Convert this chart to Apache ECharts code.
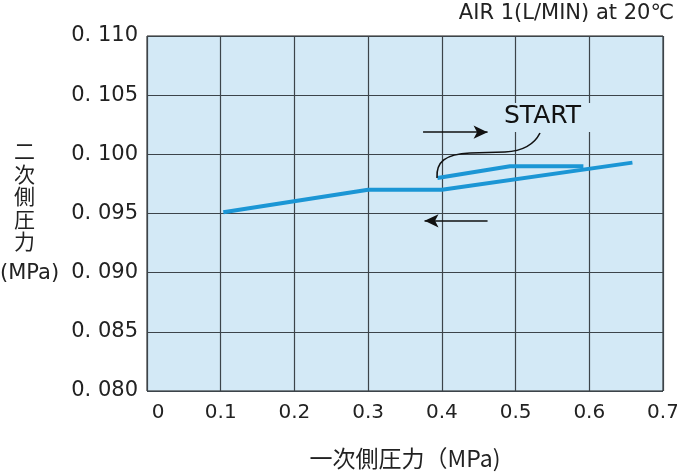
<!DOCTYPE html>
<html><head><meta charset="utf-8">
<script src="https://cdn.jsdelivr.net/npm/echarts@6/dist/echarts.min.js"></script>
<style>html,body{margin:0;padding:0;background:#fff}#c{width:677px;height:473px}</style>
</head><body><div id="c"></div>
<script>
const xTickLabels = ['0','0.1','0.2','0.3','0.4','0.5','0.6','0.7'];
const yTickLabels = ['0. 080','0. 085','0. 090','0. 095','0. 100','0. 105','0. 110'];
// return path (decreasing primary pressure)
const returnX = [0.1035, 0.300, 0.400, 0.6585];
const returnY = [0.0951, 0.0970, 0.0970, 0.0993];
// start path (increasing primary pressure)
const startX = [0.394, 0.4925, 0.592];
const startY = [0.0980, 0.0990, 0.0990];
const titleText = 'AIR 1(L/MIN) at 20℃';
const xName = '一次側圧力（MPa)';
const yNameChars = '二次側圧力';
const yNameUnit = '(MPa)';
const startLabel = 'START';

const NUM = 'DejaVu Sans';
const CJK = 'Noto Sans CJK JP';
const LINE = '#1b96d5';

const chart = echarts.init(document.getElementById('c'), null, {renderer:'canvas'});
const zip = (a,b)=>a.map((v,i)=>[v,b[i]]);
chart.setOption({
  animation:false,
  grid:{left:147, top:36, right:14, bottom:82, show:true, backgroundColor:'#d3e9f6', borderColor:'#1a1a1a', borderWidth:1, outerBoundsMode:'none', containLabel:false},
  xAxis:{type:'value', min:0, max:0.7, interval:0.1,
    axisLine:{show:false}, axisTick:{show:false},
    splitLine:{show:true, lineStyle:{color:'#3c444a', width:1.2}},
    axisLabel:{margin:12, fontFamily:NUM, fontSize:20, color:'#222', hideOverlap:false,
      formatter:(v)=>{const i=Math.round(v*10); return i===0?'{z|'+xTickLabels[0]+'}':xTickLabels[i];},
      rich:{z:{fontFamily:NUM, fontSize:20, color:'#222', padding:[0,0,0,22]}}},
    name:xName, nameLocation:'middle', nameGap:56,
    nameTextStyle:{fontFamily:CJK, fontSize:23, color:'#222'}
  },
  yAxis:{type:'value', min:0.08, max:0.11, interval:0.005,
    axisLine:{show:false}, axisTick:{show:false},
    splitLine:{show:true, lineStyle:{color:'#3c444a', width:1.2}},
    axisLabel:{margin:9, fontFamily:NUM, fontSize:21, color:'#222',
      formatter:(v)=>yTickLabels[Math.round((v-0.08)/0.005)]}
  },
  graphic:[
    {type:'text', right:3, top:3, style:{text:titleText, font:'21px "DejaVu Sans", "Noto Sans CJK JP"', fill:'#222'}},
    {type:'text', left:14, top:140, style:{text:yNameChars.split('').join('\n'), font:'21px "Noto Sans CJK JP"', lineHeight:22.5, fill:'#222', align:'left'}},
    {type:'text', left:0, top:263, style:{text:yNameUnit, font:'21px "DejaVu Sans"', fill:'#222'}},
    {type:'bezierCurve', shape:{x1:437, y1:178, cpx1:436, cpy1:162, cpx2:445, cpy2:154, x2:470, y2:153}, style:{fill:null, stroke:'#111', lineWidth:1.6}, z:50},
    {type:'line', shape:{x1:470, y1:153, x2:505, y2:152}, style:{stroke:'#111', lineWidth:1.6}, z:50},
    {type:'bezierCurve', shape:{x1:505, y1:152, cpx1:525, cpy1:151, cpx2:535, cpy2:143, x2:540, y2:133}, style:{fill:null, stroke:'#111', lineWidth:1.6}, z:50},
    {type:'rect', shape:{x:500, y:103, width:92, height:29}, style:{fill:'#d3e9f6'}, z:90},
    {type:'text', left:504, top:104, style:{text:startLabel, font:'25px "DejaVu Sans"', fill:'#111'}, z:100}
  ],
  series:[
    {type:'line', data:zip(returnX, returnY), symbol:'none', lineStyle:{color:LINE, width:4}, z:5,
     markLine:{silent:true, symbol:['none','arrow'], symbolSize:[10,14], label:{show:false},
       lineStyle:{color:'#111', width:1.6, type:'solid'},
       data:[
         [{coord:[0.3745,0.10187]},{coord:[0.462,0.10187]}],
         [{coord:[0.462,0.09438]},{coord:[0.3765,0.09438]}]
       ]}},
    {type:'line', data:zip(startX, startY), symbol:'none', lineStyle:{color:LINE, width:4}, z:5}
  ]
});
</script></body></html>
